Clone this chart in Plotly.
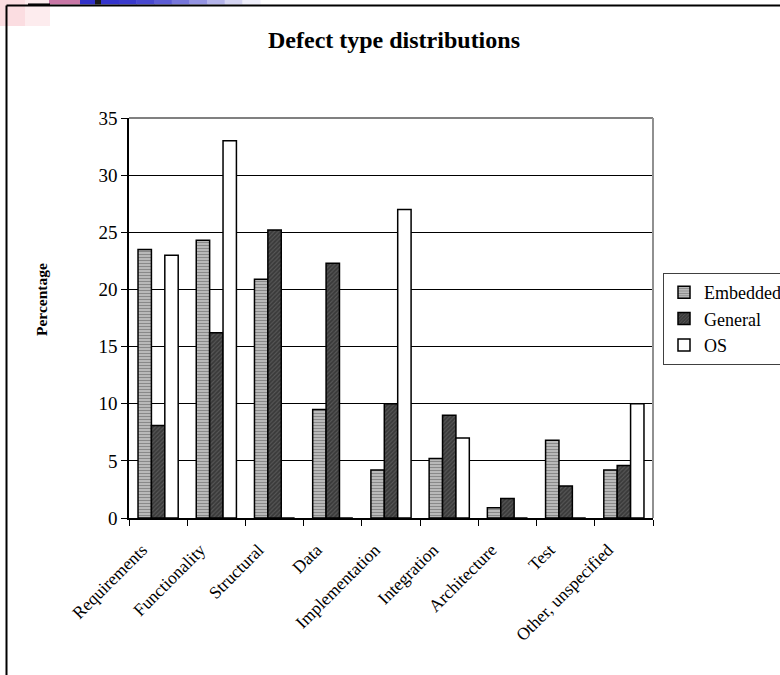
import plotly.graph_objects as go

categories = ["Requirements", "Functionality", "Structural", "Data", "Implementation",
              "Integration", "Architecture", "Test", "Other, unspecified"]
embedded = [23.5, 24.3, 20.9, 9.5, 4.2, 5.2, 0.9, 6.8, 4.2]
general = [8.1, 16.2, 25.2, 22.3, 10.0, 9.0, 1.7, 2.8, 4.6]
os_vals = [23.0, 33.0, 0, 0, 27.0, 7.0, 0, 0, 10.0]
y_ticks = [0, 5, 10, 15, 20, 25, 30, 35]

W, H = 780, 675
L, R, T, B = 129, 653, 118, 518

def px(x):
    return (x - L) / (R - L)

def py(y):
    return (B - y) / (B - T)

SERIF = "Liberation Serif, Times New Roman, serif"

fig = go.Figure()
fig.add_trace(go.Bar(
    name="Embedded", x=categories, y=embedded, legendgroup="a",
    marker=dict(color="#c4c4c4", line=dict(color="black", width=1.5),
                pattern=dict(shape="-", fgcolor="#4a4a4a", bgcolor="#c8c8c8", size=3, solidity=0.5)),
))
fig.add_trace(go.Bar(
    name="General", x=categories, y=general, legendgroup="b",
    marker=dict(color="#3c3c3c", line=dict(color="black", width=1.5),
                pattern=dict(shape="/", fgcolor="#7a7a7a", bgcolor="#3a3a3a", size=3, solidity=0.35)),
))
fig.add_trace(go.Bar(
    name="OS", x=categories, y=os_vals, legendgroup="c",
    marker=dict(color="white", line=dict(color="black", width=1.5)),
))

shapes = []
# slide decoration at top-left
shapes.append(dict(type="rect", xref="paper", yref="paper", x0=px(0), x1=px(50), y0=py(26), y1=py(0),
                   fillcolor="#fdecee", line=dict(width=0), layer="below"))
shapes.append(dict(type="rect", xref="paper", yref="paper", x0=px(0), x1=px(25), y0=py(26), y1=py(0),
                   fillcolor="#fbdde1", line=dict(width=0), layer="below"))
shapes.append(dict(type="rect", xref="paper", yref="paper", x0=px(49), x1=px(80), y0=py(4.5), y1=py(0),
                   fillcolor="#c877a6", line=dict(width=0)))
shapes.append(dict(type="rect", xref="paper", yref="paper", x0=px(80), x1=px(95), y0=py(4.5), y1=py(0),
                   fillcolor="#3232c8", line=dict(width=0)))
shapes.append(dict(type="rect", xref="paper", yref="paper", x0=px(95), x1=px(101), y0=py(4.5), y1=py(0),
                   fillcolor="#1a1a1a", line=dict(width=0)))
grad = ["#3434cc", "#3a3acc", "#4848cf", "#5c5cd4", "#7676da", "#9494e2", "#b4b4ea", "#d4d4f2", "#eeeefa"]
seg = (260 - 101) / len(grad)
for i, c in enumerate(grad):
    shapes.append(dict(type="rect", xref="paper", yref="paper", x0=px(101 + i * seg), x1=px(101 + (i + 1) * seg + 0.5),
                       y0=py(4.5), y1=py(0), fillcolor=c, line=dict(width=0)))
shapes.append(dict(type="line", xref="paper", yref="paper", x0=px(28), x1=px(50), y0=py(4.2), y1=py(4.2),
                   line=dict(color="black", width=1.5)))
# outer chart frame
shapes.append(dict(type="line", xref="paper", yref="paper", x0=px(6.5), x1=px(790), y0=py(5.5), y1=py(5.5),
                   line=dict(color="black", width=2)))
shapes.append(dict(type="line", xref="paper", yref="paper", x0=px(6.5), x1=px(6.5), y0=py(5.5), y1=py(690),
                   line=dict(color="black", width=2)))
# plot area border (top/right gray)
shapes.append(dict(type="line", xref="paper", yref="paper", x0=0, x1=1, y0=1, y1=1,
                   line=dict(color="#808080", width=2)))
shapes.append(dict(type="line", xref="paper", yref="paper", x0=1, x1=1, y0=0, y1=1,
                   line=dict(color="#909090", width=2)))

fig.update_layout(
    width=W, height=H,
    margin=dict(l=L, r=W - R, t=T, b=H - B, autoexpand=False),
    paper_bgcolor="white", plot_bgcolor="white",
    barmode="group", bargap=0.31, bargroupgap=0,
    font=dict(family=SERIF, color="black", size=17),
    title=dict(text="<b>Defect type distributions</b>", x=394 / W, xref="container", xanchor="center",
               y=1 - 40 / H, yref="container", yanchor="middle",
               font=dict(family=SERIF, size=24, color="black")),
    showlegend=True,
    legend=dict(x=663 / W, y=1 - 273 / H, xref="container", yref="container",
                xanchor="left", yanchor="top", itemwidth=30,
                bordercolor="#404040", borderwidth=1, bgcolor="white",
                font=dict(family=SERIF, size=18), tracegroupgap=9, traceorder="normal"),
    shapes=shapes,
    annotations=[dict(text="<b>Percentage</b>", textangle=-90, x=px(41), y=py(300),
                      xref="paper", yref="paper", xanchor="center", yanchor="middle", showarrow=False,
                      font=dict(family=SERIF, size=15.5, color="black"))],
)
fig.update_xaxes(type="category", tickangle=-45, tickson="boundaries", ticks="outside", ticklen=6,
                 tickcolor="black", showline=True, linecolor="black", linewidth=1.5,
                 ticklabelshift=-16, ticklabelstandoff=13,
                 showgrid=False, automargin=False, tickfont=dict(family=SERIF, size=17.5))
fig.update_yaxes(range=[0, 35], tickvals=y_ticks, ticks="outside", ticklen=6, tickcolor="black",
                 showline=True, linecolor="black", linewidth=1.5, showgrid=True, gridcolor="black",
                 gridwidth=1, zeroline=False, automargin=False, tickfont=dict(family=SERIF, size=19))

fig.write_html("out.html")
